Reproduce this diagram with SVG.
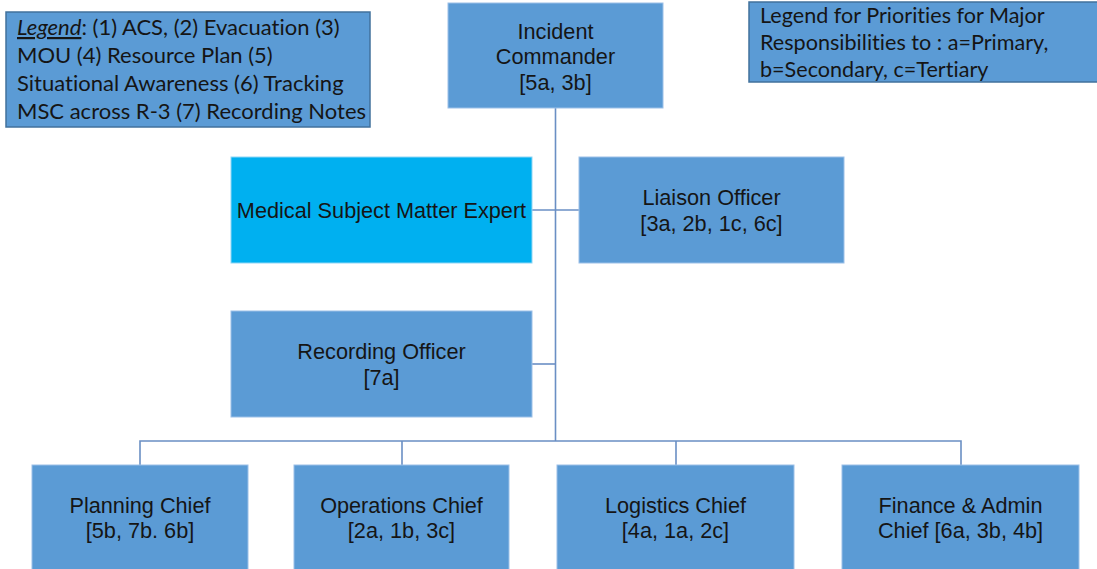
<svg xmlns="http://www.w3.org/2000/svg" width="1097" height="569" viewBox="0 0 1097 569">
<style>
.box{fill:#5B9BD5;stroke:#9CC0E8;stroke-width:1}
.sme{fill:#00B0F0;stroke:#8FD6F5;stroke-width:1}
.leg{fill:#5B9BD5;stroke:#41719C;stroke-width:1.5}
.t{font-family:"Liberation Sans",Arial,sans-serif;font-size:21.7px;fill:#151515;text-anchor:middle}
.lt{font-family:Lato,"Open Sans",sans-serif;font-size:22px;fill:#151515;font-variant-ligatures:none}
.rt{font-family:Lato,"Open Sans",sans-serif;font-size:21.6px;fill:#151515;font-variant-ligatures:none}
.c{stroke:#6A8FC4;stroke-width:1.6;fill:none}
</style>
<rect width="1097" height="569" fill="#ffffff"/>
<g id="connectors">
<line class="c" x1="555.5" y1="108" x2="555.5" y2="441"/>
<line class="c" x1="532" y1="210" x2="579" y2="210"/>
<line class="c" x1="532" y1="364" x2="555.5" y2="364"/>
<polyline class="c" points="140,465 140,441 961,441 961,465"/>
<line class="c" x1="402" y1="441" x2="402" y2="465"/>
<line class="c" x1="676" y1="441" x2="676" y2="465"/>
</g>
<g id="legend-left">
<rect class="leg" x="6" y="12" width="364" height="115"/>
<text class="lt" x="17" y="35"><tspan font-style="italic" text-decoration="underline">Legend</tspan>: (1) ACS, (2) Evacuation (3)</text>
<text class="lt" x="17" y="63">MOU (4) Resource Plan (5)</text>
<text class="lt" x="17" y="91">Situational Awareness (6) Tracking</text>
<text class="lt" x="17" y="119">MSC across R-3 (7) Recording Notes</text>
</g>
<g id="legend-right">
<rect class="leg" x="749" y="2" width="360" height="80"/>
<text class="rt" x="760" y="23">Legend for Priorities for Major</text>
<text class="rt" x="760" y="50">Responsibilities to : a=Primary,</text>
<text class="rt" x="760" y="77">b=Secondary, c=Tertiary</text>
</g>
<g id="incident-commander">
<rect class="box" x="448" y="3" width="215" height="105"/>
<text class="t" x="555.5" y="39">Incident</text>
<text class="t" x="555.5" y="64">Commander</text>
<text class="t" x="555.5" y="90">[5a, 3b]</text>
</g>
<g id="medical-sme">
<rect class="sme" x="231" y="157" width="301" height="106"/>
<text class="t" x="381.5" y="218">Medical Subject Matter Expert</text>
</g>
<g id="liaison-officer">
<rect class="box" x="579" y="157" width="265" height="106"/>
<text class="t" x="711.5" y="205">Liaison Officer</text>
<text class="t" x="711.5" y="231">[3a, 2b, 1c, 6c]</text>
</g>
<g id="recording-officer">
<rect class="box" x="231" y="311" width="301" height="106"/>
<text class="t" x="381.5" y="359">Recording Officer</text>
<text class="t" x="381.5" y="385">[7a]</text>
</g>
<g id="planning-chief">
<rect class="box" x="32" y="465" width="216" height="110"/>
<text class="t" x="140" y="513">Planning Chief</text>
<text class="t" x="140" y="538">[5b, 7b. 6b]</text>
</g>
<g id="operations-chief">
<rect class="box" x="294" y="465" width="215" height="110"/>
<text class="t" x="401.5" y="513">Operations Chief</text>
<text class="t" x="401.5" y="538">[2a, 1b, 3c]</text>
</g>
<g id="logistics-chief">
<rect class="box" x="557" y="465" width="237" height="110"/>
<text class="t" x="675.5" y="513">Logistics Chief</text>
<text class="t" x="675.5" y="538">[4a, 1a, 2c]</text>
</g>
<g id="finance-admin-chief">
<rect class="box" x="842" y="465" width="237" height="110"/>
<text class="t" x="960.5" y="513">Finance &amp; Admin</text>
<text class="t" x="960.5" y="538">Chief [6a, 3b, 4b]</text>
</g>
</svg>
